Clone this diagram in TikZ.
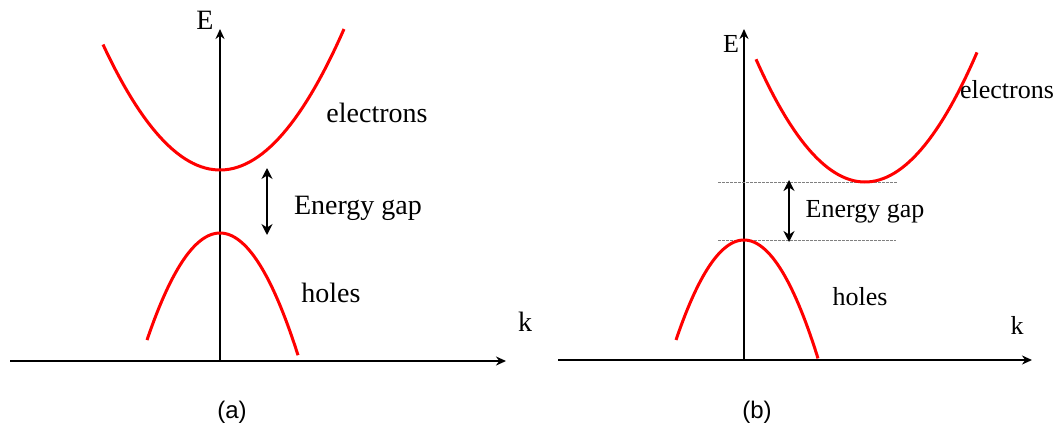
\documentclass[tikz,border=0pt]{standalone}
\usepackage{fontspec}
\setmainfont{Liberation Serif}
\newfontfamily\timesfont{Liberation Serif}
\newfontfamily\arialfont{Liberation Sans}
\usetikzlibrary{arrows.meta}
\begin{document}
\begin{tikzpicture}[x=1pt,y=-1pt,
  axisline/.style={line width=2.6pt,-{Stealth[length=10pt,width=9pt]}},
  band/.style={red,line width=3pt},
  gaparrow/.style={line width=2.4pt,{Stealth[length=11pt,width=11pt]}-{Stealth[length=11pt,width=11pt]}},
  guide/.style={gray,line width=1pt,dash pattern=on 2.5pt off 1.5pt},
  lbl/.style={font=\timesfont\fontsize{28}{32}\selectfont,inner sep=0pt},
  lblb/.style={font=\timesfont\fontsize{26}{30}\selectfont,inner sep=0pt},
  captext/.style={font=\arialfont\fontsize{24}{28}\selectfont,inner sep=0pt}]
\useasboundingbox (0,0) rectangle (1059,428);
% ---------- panel (a)
\coordinate (ax0) at (10,361);
\coordinate (ax1) at (506,361);
\coordinate (ay0) at (220,361);
\coordinate (ay1) at (220,29);
\draw[axisline] (ax0) -- (ax1);
\draw[axisline] (ay0) -- (ay1);
\node[lbl] (Ea) at (205,20) {E};
\node[lbl] (ka) at (525,322) {k};
\draw[band] plot[domain=-117:124,samples=60] ({220+\x},{170-132*(\x/120)^2});
\draw[band] plot[domain=-73:78,samples=60] ({220+\x},{233+116*(\x/76)^2});
\coordinate (ga1) at (267,168);
\coordinate (ga2) at (267,235);
\draw[gaparrow] (ga1) -- (ga2);
\node[lbl] (ela) at (377,113) {electrons};
\node[lbl] (ega) at (358,208) {Energy gap};
\node[lbl] (hoa) at (331,293) {holes};
\node[captext] (capa) at (232,412) {(a)};
% ---------- panel (b)
\coordinate (bx0) at (558,360);
\coordinate (bx1) at (1032,360);
\coordinate (by0) at (744,360);
\coordinate (by1) at (744,29);
\draw[axisline] (bx0) -- (bx1);
\draw[axisline] (by0) -- (by1);
\node[lblb] (Eb) at (731,44) {E};
\node[lblb] (kb) at (1017,325) {k};
\coordinate (d1a) at (718,182);
\coordinate (d1b) at (897,182);
\coordinate (d2a) at (718,240);
\coordinate (d2b) at (896,240);
\draw[guide] (d1a) -- (d1b);
\draw[guide] (d2a) -- (d2b);
\draw[band] plot[domain=-109:112,samples=60] ({865+\x},{182-125*(\x/110)^2});
\draw[band] plot[domain=-68:74,samples=60] ({744+\x},{240+109*(\x/71)^2});
\coordinate (gb1) at (789,180);
\coordinate (gb2) at (789,242);
\draw[gaparrow] (gb1) -- (gb2);
\node[lblb] (elb) at (1007,90) {electrons};
\node[lblb] (egb) at (865,212) {Energy gap};
\node[lblb] (hob) at (860,297) {holes};
\node[captext] (capb) at (757,412) {(b)};
\end{tikzpicture}
\end{document}
